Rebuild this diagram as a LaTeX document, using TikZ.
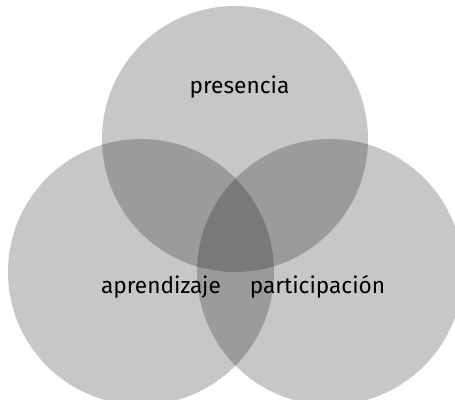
\documentclass[tikz,border=0pt]{standalone}
\usepackage{fontspec}
\setmainfont{Fira Sans}
\usetikzlibrary{positioning}

\begin{document}
\begin{tikzpicture}[x=0.75pt,y=-0.75pt,
        ring/.style={fill=black,fill opacity=0.22},
        lbl/.style={font=\fontsize{17}{19}\selectfont,text=black,anchor=base}]
                \useasboundingbox (0,0) rectangle (455,400);
                \clip (0,0) rectangle (455,400);
                \fill[ring] (235,139) circle (133);
                \fill[ring] (141,272) circle (133);
                \fill[ring] (330,272) circle (133);

                \node[lbl] (presencia) at (239.5,93) {presencia};
                \node[lbl] (aprendizaje) at (161,293) {aprendizaje};
                \node[lbl] (participacion) at (317.5,293) {participación};
\end{tikzpicture}
\end{document}
